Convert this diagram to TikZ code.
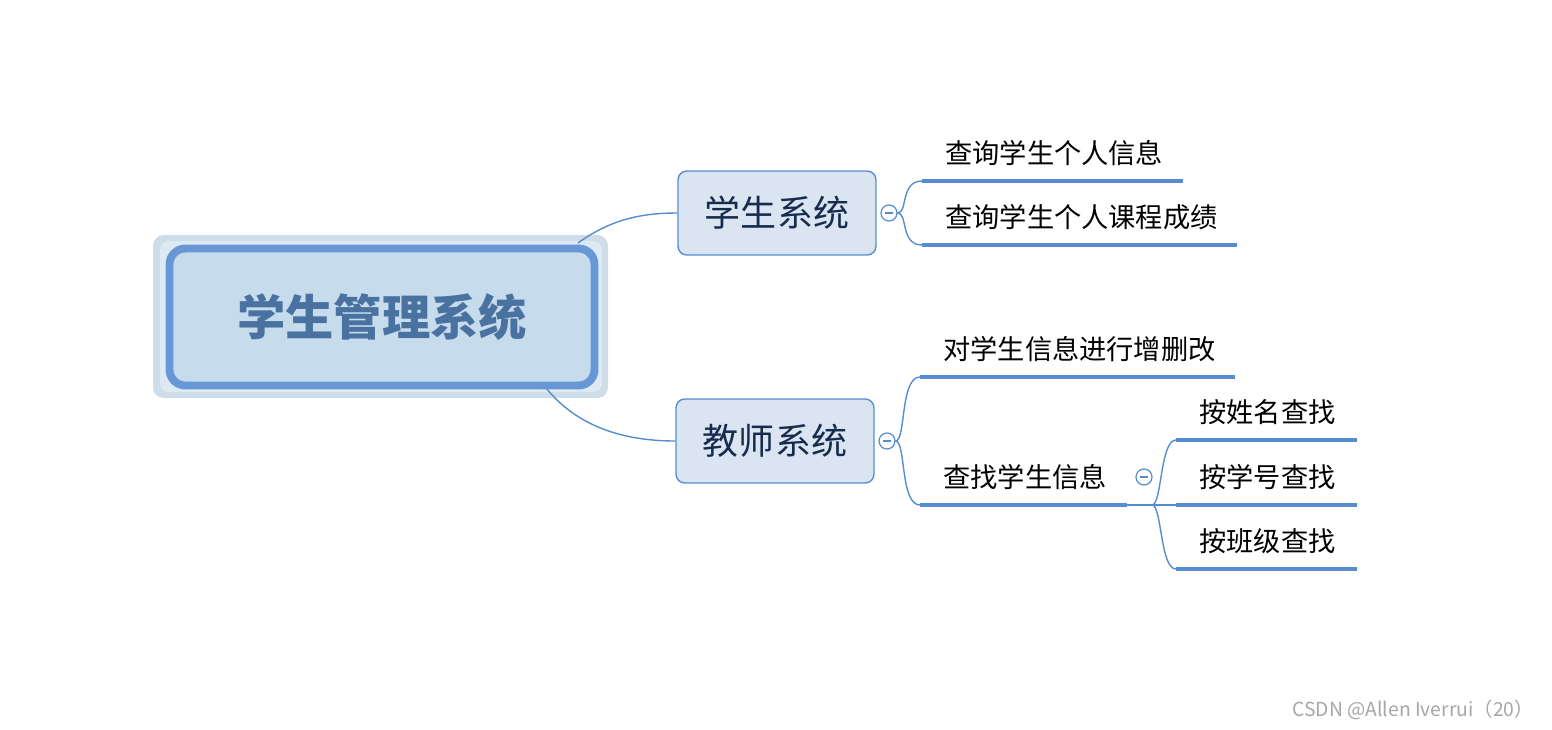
\documentclass[tikz,border=0pt]{standalone}
\usepackage{fontspec}
\newfontfamily\cjk{Noto Sans CJK SC}
\usetikzlibrary{positioning, calc}
\definecolor{mapblue}{RGB}{86, 141, 208}
\definecolor{rootfill}{RGB}{198, 220, 236}
\definecolor{rootouter}{RGB}{207, 221, 233}
\definecolor{subfill}{RGB}{219, 229, 242}
\definecolor{roottext}{RGB}{74, 114, 160}
\definecolor{subtext}{RGB}{23, 43, 77}

\tikzset{
    sysbox/.style={draw=mapblue, fill=subfill, rounded corners=5pt, line width=0.8pt,
        minimum width=3.96cm, minimum height=1.68cm, font=\cjk\fontsize{20.5}{20.5}\selectfont, text=subtext},
    leaf/.style={anchor=south west, inner sep=0pt, font=\cjk\fontsize{15.5}{15.5}\selectfont},
    uline/.style={draw=mapblue, line width=2.3pt},
    link/.style={draw=mapblue, line width=0.8pt},
    fold/.style={circle, draw=mapblue, fill=white, line width=0.7pt, minimum size=0.32cm, inner sep=0pt}
}

\begin{document}
\begin{tikzpicture}[x=0.02cm, y=-0.02cm]
    \useasboundingbox (0,0) rectangle (1552,730);

    % Root
    \fill[rootouter, rounded corners=6pt] (153,235) rectangle (608,398);
    \fill[white!40!rootfill, rounded corners=5pt] (160,241) rectangle (602,392);
    \node[draw=mapblue!90, fill=rootfill, line width=4.5pt, rounded corners=9pt,
        minimum width=8.5cm, minimum height=2.74cm, text=roottext,
        font=\cjk\bfseries\fontsize{27.5}{27.5}\selectfont] (root) at (382,317) {学生管理系统};

    % Systems
    \node[sysbox] (stu) at (777,213) {学生系统};
    \node[sysbox] (tea) at (775,441) {教师系统};
    \draw[link] (578,243) .. controls (610,220) and (640,213) .. (stu.west);
    \draw[link] (546,388) .. controls (580,430) and (630,441) .. (tea.west);

    % Student branch
    \node[fold] (fs) at (889,213) {};
    \draw[mapblue, line width=0.7pt] ($(fs)+(-4,0)$) -- ($(fs)+(4,0)$);
    \coordinate (s1) at (922,181);
    \coordinate (s2) at (922,245);
    \draw[uline] (s1) -- (1183,181);
    \draw[uline] (s2) -- (1237,245);
    \node[leaf] (s1t) at (945,166) {查询学生个人信息};
    \node[leaf] (s2t) at (945,230) {查询学生个人课程成绩};
    \draw[link] (fs.east) .. controls (908,213) and (900,181) .. (s1);
    \draw[link] (fs.east) .. controls (908,213) and (900,245) .. (s2);

    % Teacher branch
    \node[fold] (ft) at (887,441) {};
    \draw[mapblue, line width=0.7pt] ($(ft)+(-4,0)$) -- ($(ft)+(4,0)$);
    \coordinate (t1) at (920,377);
    \coordinate (t2) at (920,505);
    \draw[uline] (t1) -- (1235,377);
    \draw[uline] (t2) -- (1127,505);
    \node[leaf] (t1t) at (943,362) {对学生信息进行增删改};
    \node[leaf] (t2t) at (943,490) {查找学生信息};
    \draw[link] (ft.east) .. controls (906,441) and (900,377) .. (t1);
    \draw[link] (ft.east) .. controls (906,441) and (900,505) .. (t2);

    % Search sub-branch
    \node[fold] (fq) at (1144,477) {};
    \draw[mapblue, line width=0.7pt] ($(fq)+(-4,0)$) -- ($(fq)+(4,0)$);
    \coordinate (qa) at (1152,505);
    \draw[link] (1127,505) -- (qa);
    \foreach \y/\txt in {440/按姓名查找, 505/按学号查找, 569/按班级查找} {
        \draw[uline] (1176,\y) -- (1357,\y);
        \node[leaf] at (1199,\y-15) {\txt};
        \draw[link] (qa) .. controls (1162,505) and (1160,\y) .. (1176,\y);
    }

    % Watermark
    \node[anchor=east, text=gray!70, font=\cjk\fontsize{11}{11}\selectfont] (wm) at (1540,710) {CSDN @Allen Iverrui（20）};
\end{tikzpicture}
\end{document}
